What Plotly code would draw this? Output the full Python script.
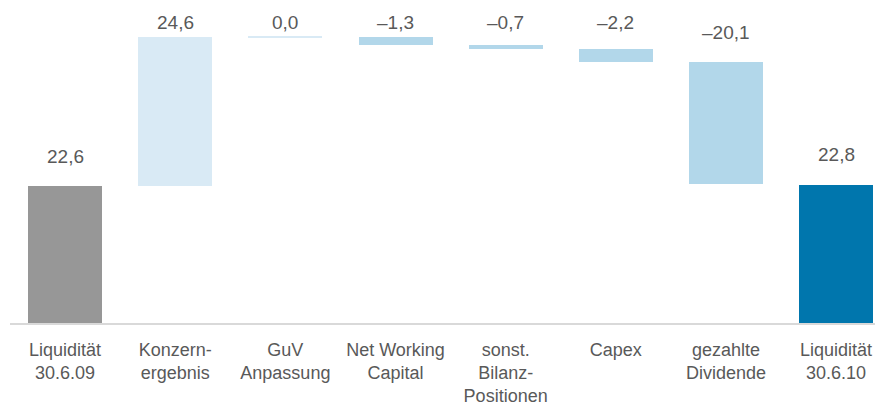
import plotly.graph_objects as go

categories = ["Liquidität<br>30.6.09", "Konzern-<br>ergebnis", "GuV<br>Anpassung",
              "Net Working<br>Capital", "sonst.<br>Bilanz-<br>Positionen", "Capex",
              "gezahlte<br>Dividende", "Liquidität<br>30.6.10"]
values = [22.6, 24.6, 0.0, -1.3, -0.7, -2.2, -20.1, 22.8]
kinds = ["total", "delta", "delta", "delta", "delta", "delta", "delta", "total"]
colors = ["#979797", "#d9eaf5", "#d9eaf5", "#b2d7ea", "#b2d7ea", "#b2d7ea", "#b2d7ea", "#0076ad"]

MIN_VISIBLE = 0.15  # display minimum so a zero change still shows as a hairline
Y_MAX = 51.99
PLOT_H = 315
PX_PER_UNIT = PLOT_H / Y_MAX
LABEL_GAP_PX = 30
LABEL_TOP_LIMIT = (PLOT_H - 14.5) / PX_PER_UNIT  # labels never go higher than this

bases, heights, tops = [], [], []
running = 0.0
for v, k in zip(values, kinds):
    if k == "total":
        b, h = 0.0, v
        running = v
    else:
        start = running
        running = running + v
        b = min(start, running)
        h = abs(v) if abs(v) > 0 else MIN_VISIBLE
        if abs(v) == 0:
            b = start - MIN_VISIBLE / 2
    bases.append(b)
    heights.append(h)
    tops.append(b + h)

def fmt(v):
    return f"{v:.1f}".replace(".", ",").replace("-", "\u2013")

x = list(range(len(categories)))

fig = go.Figure()
fig.add_trace(go.Bar(
    x=x, y=heights, base=bases, width=0.672,
    marker=dict(color=colors, line=dict(width=0)),
    hoverinfo="skip",
))

for xi, t, v in zip(x, tops, values):
    ly = min(t + LABEL_GAP_PX / PX_PER_UNIT, LABEL_TOP_LIMIT)
    fig.add_annotation(x=xi, y=ly, text=fmt(v), showarrow=False, yanchor="middle",
                       font=dict(size=19, color="#595959"))

font_family = "Liberation Sans, Arial, sans-serif"
# the page body has an 8px default margin, so the figure is sized to fit the window
fig.update_layout(
    width=875, height=399,
    margin=dict(l=2, r=0, t=0, b=84),
    paper_bgcolor="white", plot_bgcolor="white",
    showlegend=False,
    font=dict(family=font_family, size=18, color="#595959"),
    bargap=0,
    xaxis=dict(range=[-0.5, 7.426], tickvals=x, ticktext=categories,
               showline=True, linecolor="#d9d9d9", linewidth=2,
               showgrid=False, zeroline=False, ticks="outside", ticklen=9,
               tickcolor="rgba(0,0,0,0)", tickfont=dict(size=18, color="#595959")),
    yaxis=dict(range=[0, Y_MAX], visible=False, showgrid=False, zeroline=False),
)

fig.write_html("out.html")
